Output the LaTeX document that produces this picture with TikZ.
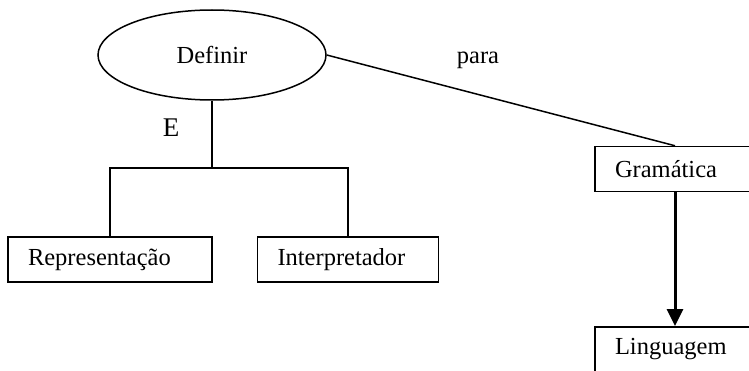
\documentclass[tikz,border=0pt]{standalone}
\usepackage{fontspec}
\setmainfont{Liberation Serif}
\usetikzlibrary{shapes.geometric,arrows.meta}
\begin{document}
\begin{tikzpicture}[x=1pt,y=1pt,
  every node/.style={font=\fontsize{24.5}{28}\selectfont},
  box/.style={draw,line width=1.5pt,rectangle,inner ysep=0pt,inner xsep=20pt,align=left,minimum height=45pt},
  conn/.style={line width=1.5pt},
  lbl/.style={inner sep=0pt}]
\useasboundingbox (0,0) rectangle (749,370);
\clip (0,0) rectangle (749,370);
\node[draw,ellipse,line width=1.5pt,minimum width=228pt,minimum height=90pt,inner sep=0pt] (def) at (212,315) {Definir\hspace{28pt}};
\node[box,text width=164pt] (rep) at (110,110.5) {Representação};
\node[box,text width=141pt] (int) at (348,110.5) {Interpretador};
\node[box,text width=120pt] (gram) at (675,201) {Gramática};
\node[box,text width=120pt,anchor=north] (ling) at (675,44) {Linguagem};
\node[lbl,font=\fontsize{27}{30}\selectfont] (e) at (171,242) {E};
\node[lbl] (para) at (478,310) {para};
\coordinate (j) at (212,202);
\draw[conn] (def.south) -- (j);
\draw[conn] (rep.north) -- (rep.north |- j) -- (int.north |- j) -- (int.north);
\draw[conn] (def.east) -- (gram.north);
\draw[line width=3pt,-{Triangle[length=17pt,width=16pt]}] (gram.south) -- (ling.north);
\end{tikzpicture}
\end{document}
